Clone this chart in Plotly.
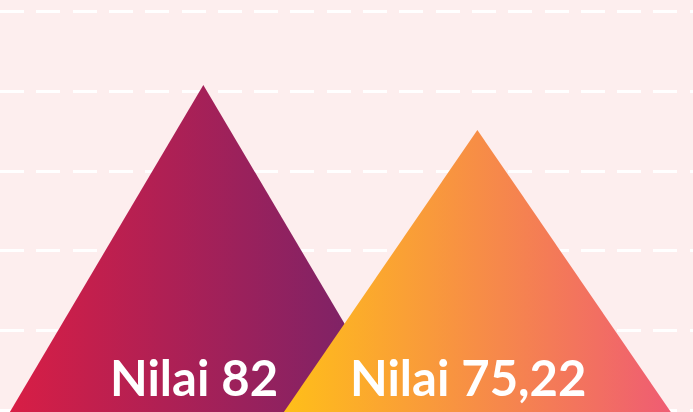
import plotly.graph_objects as go

# ---- data ----
categories = ["Nilai A", "Nilai B"]
values = [82, 75.22]
value_labels = ["Nilai 82", "Nilai 75,22"]
y_ticks_start = 33
y_tick_step = 12

# ---- style ----
gradients = [["#d81e45", "#72236b"], ["#ffbf19", "#ef5c73"]]
bg = "#fdeeee"
y_min, y_max = 32.7, 94.8
half_width = 0.706
x_range = [-0.742, 1.787]

fig = go.Figure()
for i, (cat, v) in enumerate(zip(categories, values)):
    xs = [i - half_width, i, i + half_width, i - half_width]
    ys = [y_min, v, y_min, y_min]
    fig.add_trace(go.Scatter(
        x=xs, y=ys, mode="lines", fill="toself", name=cat,
        line=dict(width=0),
        fillgradient=dict(type="horizontal",
                          colorscale=[[0, gradients[i][0]], [1, gradients[i][1]]]),
        hoverinfo="skip",
    ))
    fig.add_annotation(
        x=i, y=0, xref="x", yref="paper", yanchor="bottom",
        text=value_labels[i], showarrow=False, xshift=-9, yshift=4,
        font=dict(family="Lato", size=49, color="white", weight=700),
    )

fig.update_layout(
    width=693, height=412,
    margin=dict(l=0, r=0, t=0, b=0),
    paper_bgcolor=bg, plot_bgcolor=bg,
    showlegend=False,
    xaxis=dict(range=x_range, visible=False, showgrid=False, zeroline=False),
    yaxis=dict(range=[y_min, y_max], showgrid=True, gridcolor="white",
               gridwidth=3, griddash="24px,12.3px", tick0=y_ticks_start,
               dtick=y_tick_step, showticklabels=False, zeroline=False,
               showline=False, ticks=""),
)

fig.write_html(
    "out.html",
    config={"displayModeBar": False},
    post_script="document.body.style.margin='0';document.body.style.overflow='hidden';",
)
